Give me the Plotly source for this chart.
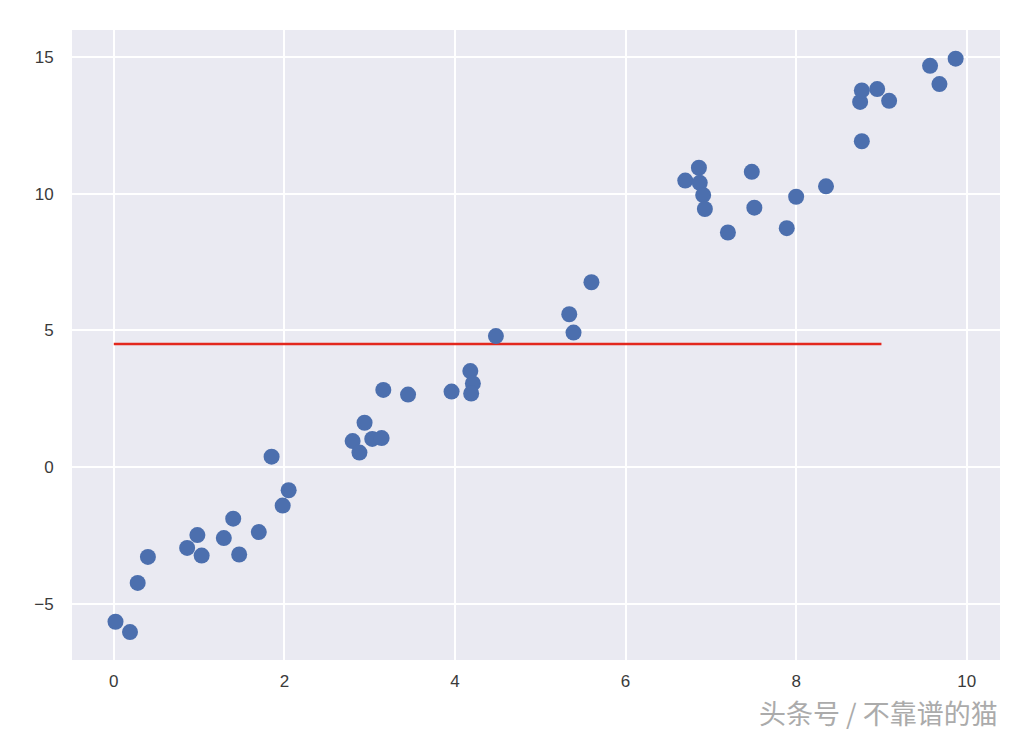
import plotly.graph_objects as go

# Scatter data
x_vals = [0.02, 0.19, 0.28, 0.40, 0.86, 0.98, 1.03, 1.29, 1.40, 1.47, 1.70, 1.85, 1.98, 2.05,
          2.80, 2.88, 2.94, 3.03, 3.14, 3.16, 3.45, 3.96, 4.18, 4.21, 4.19, 4.48,
          5.34, 5.39, 5.60, 6.70, 6.86, 6.87, 6.91, 6.93, 7.20, 7.48, 7.51, 7.89, 8.00, 8.35,
          8.77, 8.75, 8.77, 8.95, 9.09, 9.57, 9.68, 9.87]
y_vals = [-5.66, -6.04, -4.24, -3.29, -2.96, -2.49, -3.24, -2.60, -1.89, -3.20, -2.38, 0.38, -1.41, -0.85,
          0.95, 0.53, 1.62, 1.03, 1.06, 2.82, 2.65, 2.76, 3.51, 3.06, 2.69, 4.79,
          5.59, 4.92, 6.76, 10.48, 10.95, 10.40, 9.95, 9.44, 8.58, 10.80, 9.49, 8.74, 9.89, 10.27,
          11.92, 13.36, 13.78, 13.83, 13.40, 14.68, 14.01, 14.94]

# Horizontal reference line
line_x = [0, 9]
line_y = [4.5, 4.5]

x_ticks = [0, 2, 4, 6, 8, 10]
y_ticks = [-5, 0, 5, 10, 15]

watermark = "头条号 / 不靠谱的猫"

fig = go.Figure()
fig.add_trace(go.Scatter(
    x=line_x, y=line_y, mode="lines",
    line=dict(color="#E3281E", width=2.5),
    showlegend=False, hoverinfo="skip",
))
fig.add_trace(go.Scatter(
    x=x_vals, y=y_vals, mode="markers",
    marker=dict(color="#4C6FAE", size=16, line=dict(width=0)),
    showlegend=False,
))

axis_font = dict(family="Liberation Sans, Arial, sans-serif", size=17, color="#3a3a3a")

fig.update_layout(
    width=1024, height=738,
    margin=dict(l=64, r=32, t=22, b=86),
    paper_bgcolor="white",
    plot_bgcolor="#EAEAF2",
    xaxis=dict(
        range=[-0.49, 10.39], tickvals=x_ticks, ticktext=[str(v) for v in x_ticks],
        showgrid=True, gridcolor="white", gridwidth=1.6, zeroline=False,
        showline=False, ticks="outside", ticklen=6, tickcolor="rgba(0,0,0,0)",
        tickfont=axis_font, automargin=False,
    ),
    yaxis=dict(
        range=[-7.06, 15.99], tickvals=y_ticks, ticktext=[("\u2212" + str(-v)) if v < 0 else str(v) for v in y_ticks],
        showgrid=True, gridcolor="white", gridwidth=1.6, zeroline=False,
        showline=False, ticks="outside", ticklen=14, tickcolor="rgba(0,0,0,0)",
        tickfont=axis_font, automargin=False,
    ),
    annotations=[dict(
        text=watermark, xref="paper", yref="paper",
        x=1.0, y=-0.084, xanchor="right", yanchor="middle",
        showarrow=False,
        font=dict(family="Noto Sans CJK SC", size=27, color="#ABABAB"),
    )],
)

fig.write_html("out.html")
